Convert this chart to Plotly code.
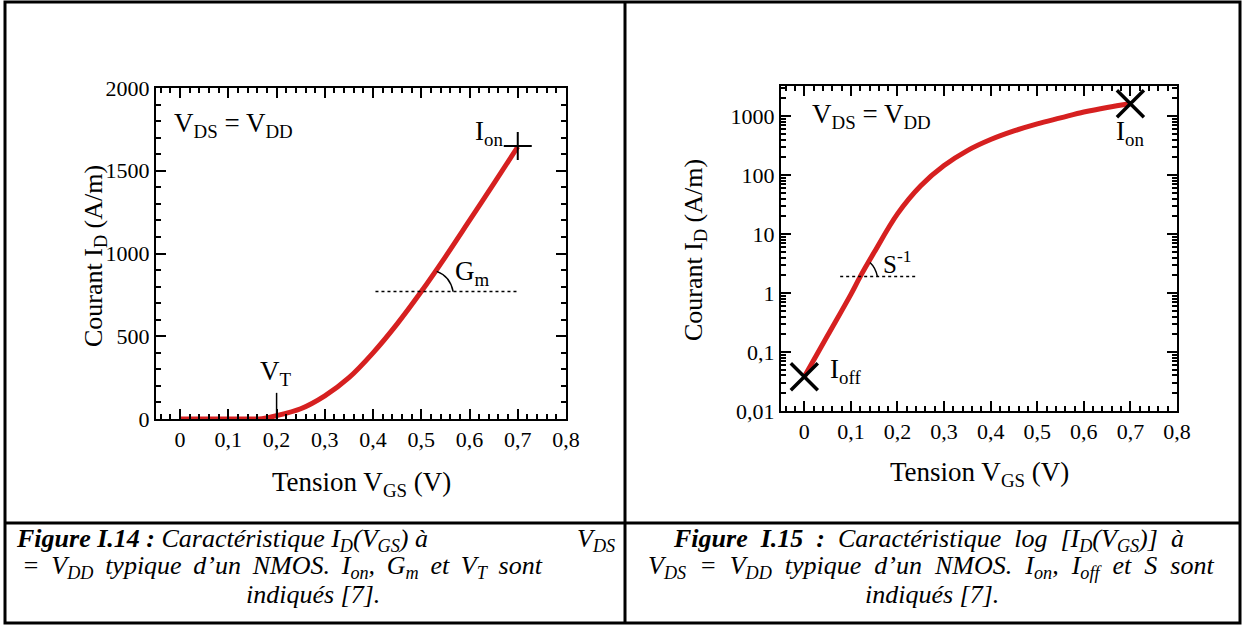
import plotly.graph_objects as go

# ---------------- data ----------------
vgs_lin = [0, 0.05, 0.10, 0.15, 0.17, 0.20, 0.25, 0.30, 0.35, 0.40, 0.45, 0.50, 0.55, 0.60, 0.65, 0.70]
id_lin = [0, 0, 0, 0, 2, 20, 62, 140, 250, 400, 575, 770, 980, 1200, 1420, 1645]

vgs_log = [0, 0.05, 0.10, 0.12, 0.15, 0.20, 0.25, 0.30, 0.35, 0.40, 0.45, 0.50, 0.55, 0.60, 0.65, 0.70]
id_log = [0.038, 0.19, 0.95, 1.9, 4.9, 22, 66, 145, 260, 400, 560, 740, 930, 1170, 1400, 1620]

x_tickvals = [0, 0.1, 0.2, 0.3, 0.4, 0.5, 0.6, 0.7, 0.8]
x_ticktext = ["0", "0,1", "0,2", "0,3", "0,4", "0,5", "0,6", "0,7", "0,8"]
ylin_tickvals = [0, 500, 1000, 1500, 2000]
ylin_ticktext = ["0", "500", "1000", "1500", "2000"]
ylog_tickvals = [0.01, 0.1, 1, 10, 100, 1000]
ylog_ticktext = ["0,01", "0,1", "1", "10", "100", "1000"]

ion_lin = (0.7, 1650)
ion_log = (0.7, 1620)
ioff_log = (0.0, 0.038)
gm_level = 770
s_level = 1.9
vt_value = 0.2

# ---------------- figure ----------------
W, H = 1244, 625
FONT = "Liberation Serif"
RED = "rgb(214,32,32)"

fig = go.Figure()

fig.add_trace(go.Scatter(x=vgs_lin, y=id_lin, mode="lines", line=dict(color=RED, width=5, shape="spline", smoothing=0.8),
                         xaxis="x", yaxis="y", showlegend=False, hoverinfo="skip"))
fig.add_trace(go.Scatter(x=[ion_lin[0]], y=[ion_lin[1]], mode="markers",
                         marker=dict(symbol="cross-thin", size=20, line=dict(color="black", width=2)),
                         xaxis="x", yaxis="y", showlegend=False, cliponaxis=False))

fig.add_trace(go.Scatter(x=vgs_log, y=id_log, mode="lines", line=dict(color=RED, width=5, shape="spline"),
                         xaxis="x2", yaxis="y2", showlegend=False, hoverinfo="skip"))
fig.add_trace(go.Scatter(x=[ioff_log[0], ion_log[0]], y=[ioff_log[1], ion_log[1]], mode="markers",
                         marker=dict(symbol="x-thin", size=27, line=dict(color="black", width=3.5)),
                         xaxis="x2", yaxis="y2", showlegend=False, cliponaxis=False))

def px2x(p):
    return p / W

def py2y(p):
    return 1 - p / H

axis_common = dict(showline=True, linecolor="black", linewidth=2, mirror="ticks", ticks="inside",
                   showgrid=False, zeroline=False, tickcolor="black", tickwidth=1.5, automargin=False,
                   tickfont=dict(family=FONT, size=22, color="black"))

fig.update_layout(
    width=W, height=H, margin=dict(l=0, r=0, t=0, b=0, pad=0, autoexpand=False),
    paper_bgcolor="white", plot_bgcolor="white",
    font=dict(family=FONT, color="black"), showlegend=False,
    xaxis=dict(domain=[px2x(156), px2x(566)], range=[-0.05, 0.8], anchor="y",
               tickvals=x_tickvals, ticktext=x_ticktext, ticklen=10,
               minor=dict(ticks="inside", dtick=0.02, tick0=0, ticklen=5, tickcolor="black", tickwidth=1.5),
               **axis_common),
    yaxis=dict(domain=[py2y(419), py2y(88)], range=[0, 2000], anchor="x",
               tickvals=ylin_tickvals, ticktext=ylin_ticktext, ticklen=10,
               minor=dict(ticks="inside", dtick=100, tick0=0, ticklen=5, tickcolor="black", tickwidth=1.5),
               **axis_common),
    xaxis2=dict(domain=[px2x(781), px2x(1177)], range=[-0.05, 0.8], anchor="y2",
                tickvals=x_tickvals, ticktext=x_ticktext, ticklen=10,
                minor=dict(ticks="inside", dtick=0.02, tick0=0, ticklen=5, tickcolor="black", tickwidth=1.5),
                **axis_common),
    yaxis2=dict(domain=[py2y(411), py2y(86)], type="log", range=[-2, 3.51], anchor="x2",
                tickvals=ylog_tickvals, ticktext=ylog_ticktext, ticklen=10,
                minor=dict(ticks="inside", dtick="D1", ticklen=5, tickcolor="black", tickwidth=1.5),
                **axis_common),
)

shapes = []
bl = dict(color="black", width=3)
shapes.append(dict(type="rect", xref="paper", yref="paper", x0=px2x(5), x1=px2x(1240), y0=py2y(623), y1=py2y(2), line=bl))
shapes.append(dict(type="line", xref="paper", yref="paper", x0=px2x(625), x1=px2x(625), y0=py2y(623), y1=py2y(2), line=bl))
shapes.append(dict(type="line", xref="paper", yref="paper", x0=px2x(5), x1=px2x(1240), y0=py2y(523), y1=py2y(523), line=bl))
shapes.append(dict(type="line", xref="x", yref="y", x0=0.405, x1=0.70, y0=gm_level, y1=gm_level,
                   line=dict(color="black", width=1.5, dash="dot")))
shapes.append(dict(type="path", xref="x", yref="y", path="M 0.532,892 Q 0.560,862 0.566,%d" % gm_level,
                   line=dict(color="black", width=1.5)))
shapes.append(dict(type="line", xref="x", yref="y", x0=vt_value, x1=vt_value, y0=0, y1=158,
                   line=dict(color="black", width=1.5)))
shapes.append(dict(type="line", xref="x2", yref="y2", x0=0.077, x1=0.241, y0=s_level, y1=s_level,
                   line=dict(color="black", width=1.5, dash="dot")))
shapes.append(dict(type="path", xref="x2", yref="y2", path="M 0.141,3.3 Q 0.153,2.7 0.157,%.2f" % s_level,
                   line=dict(color="black", width=1.5)))
fig.update_layout(shapes=shapes)

ann = []
def A(text, x, y, xref, yref, size, xanchor="center", yanchor="middle", angle=0):
    ann.append(dict(text=text, x=x, y=y, xref=xref, yref=yref, showarrow=False, xanchor=xanchor,
                    yanchor=yanchor, textangle=angle, font=dict(family=FONT, size=size, color="black")))

LS = 27
A("V<sub>DS</sub> = V<sub>DD</sub>", -0.017, 1775, "x", "y", LS, xanchor="left")
A("I<sub>on</sub>", 0.674, 1730, "x", "y", LS, xanchor="right")
A("G<sub>m</sub>", 0.566, 880, "x", "y", LS, xanchor="left")
A("V<sub>T</sub>", 0.198, 280, "x", "y", LS)
A("V<sub>DS</sub> = V<sub>DD</sub>", 0.012, 3.0, "x2", "y2", LS, xanchor="left")
A("I<sub>on</sub>", 0.70, 2.72, "x2", "y2", LS)
A("I<sub>off</sub>", 0.05, -1.33, "x2", "y2", LS, xanchor="left")
A("S<sup>-1</sup>", 0.165, 0.53, "x2", "y2", 25, xanchor="left")

A("Tension V<sub>GS</sub> (V)", px2x(361), py2y(484), "paper", "paper", 27)
A("Courant I<sub>D</sub> (A/m)", px2x(95), py2y(256), "paper", "paper", 26, angle=-90)
A("Tension V<sub>GS</sub> (V)", px2x(979), py2y(474), "paper", "paper", 27)
A("Courant I<sub>D</sub> (A/m)", px2x(695), py2y(250), "paper", "paper", 26, angle=-90)

# captions (justified lines approximated with a little extra word spacing)
CS = 26
NB = "\u00a0"
TH = "\u2009"
def wide(*words, pad=NB):
    return (" " + pad).join(words)

A("<b><i>Figure I.14 :</i></b><i> Caractéristique I<sub>D</sub>(V<sub>GS</sub>) à</i>", px2x(14), py2y(540), "paper", "paper", CS, xanchor="left")
A("<i>V<sub>DS</sub></i>", px2x(617), py2y(540), "paper", "paper", CS, xanchor="right")
A("<i>" + wide("=", "V<sub>DD</sub>", "typique", "d’un", "NMOS.", "I<sub>on</sub>,", "G<sub>m</sub>", "et", "V<sub>T</sub>", "sont", pad=TH) + "</i>",
  px2x(20), py2y(567), "paper", "paper", CS, xanchor="left")
A("<i>indiqués [7].</i>", px2x(313), py2y(594), "paper", "paper", CS)
A("<b><i>" + wide("Figure", "I.15", ":") + "</i></b><i>" + NB + " " +
  wide("Caractéristique", "log", "[I<sub>D</sub>(V<sub>GS</sub>)]", "à") + "</i>",
  px2x(928), py2y(540), "paper", "paper", CS)
A("<i>" + wide("V<sub>DS</sub>", "=", "V<sub>DD</sub>", "typique", "d’un", "NMOS.", "I<sub>on</sub>,", "I<sub>off</sub>", "et", "S", "sont") + "</i>",
  px2x(931), py2y(567), "paper", "paper", CS)
A("<i>indiqués [7].</i>", px2x(932), py2y(594), "paper", "paper", CS)

fig.update_layout(annotations=ann)

fig.write_html("out.html")
